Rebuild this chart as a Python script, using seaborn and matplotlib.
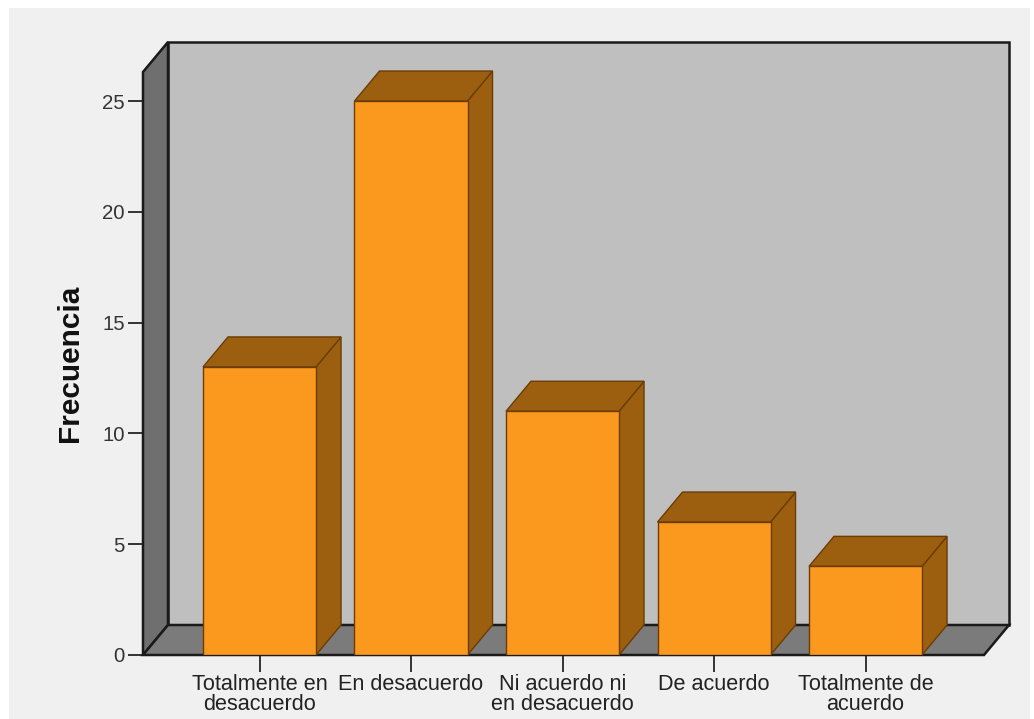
import seaborn as sns
import matplotlib.pyplot as plt
from matplotlib.patches import Polygon, Rectangle
from matplotlib.transforms import ScaledTranslation

sns.set_theme(style="white")
plt.rcParams["font.family"] = ["Liberation Sans", "DejaVu Sans"]

categories = ["Totalmente en\ndesacuerdo", "En desacuerdo", "Ni acuerdo ni\nen desacuerdo",
              "De acuerdo", "Totalmente de\nacuerdo"]
frecuencia = [13, 25, 11, 6, 4]
yticks = [0, 5, 10, 15, 20, 25]

W, H = 1034, 719
dpi = 100
DX, DY = 25, 30  # depth of the fake 3d box, pixels
edge = "#1a1a1a"
bar_edge = "#6b3c05"

fig = plt.figure(figsize=(W / dpi, H / dpi), dpi=dpi, facecolor="white")
fig.add_artist(Rectangle((9 / W, 0), 1021 / W, 711 / H, transform=fig.transFigure,
                         facecolor="#f0f0f0", edgecolor="none", zorder=-5))
ax = fig.add_axes([143 / W, (H - 655) / H, 841 / W, 583 / H])
ax.patch.set_alpha(0)

sns.barplot(x=categories, y=frecuencia, ax=ax, color="#fb991f", saturation=1,
            width=0.746, edgecolor=bar_edge, linewidth=1.0, zorder=5)
ax.set_xlim(-0.769, 4.782)
ax.set_ylim(0, 26.31)

# shift to the back plane
back = ax.transData + ScaledTranslation(DX / dpi, DY / dpi, fig.dpi_scale_trans)
x0, x1 = ax.get_xlim()
y0, y1 = ax.get_ylim()


def depth_face(p, q, color, ec, lw, z):
    # parallelogram from a front edge p-q to the same edge on the back plane
    a = ax.transData.transform([p, q])
    b = a + [DX, DY]
    ax.add_patch(Polygon([a[0], a[1], b[1], b[0]], closed=True, transform=None,
                         facecolor=color, edgecolor=ec, linewidth=lw, zorder=z,
                         clip_on=False))


# back wall
ax.add_patch(Rectangle((x0, y0), x1 - x0, y1 - y0, transform=back, facecolor="#bfbfbf",
                       edgecolor=edge, linewidth=1.8, zorder=1, clip_on=False))
# left wall and floor
depth_face((x0, y0), (x0, y1), "#6f6f6f", edge, 1.8, 2)
depth_face((x0, y0), (x1, y0), "#7b7b7b", edge, 1.8, 2)

# side and top of each bar
for bar in ax.patches[:len(frecuencia)]:
    left, w, h = bar.get_x(), bar.get_width(), bar.get_height()
    depth_face((left + w, 0), (left + w, h), "#9c5f10", bar_edge, 1.0, 4)
    depth_face((left, h), (left + w, h), "#9c5f10", bar_edge, 1.0, 4)

ax.set_yticks(yticks)
ax.set_ylabel("Frecuencia", fontsize=21.4, fontweight="bold", color="#111111", labelpad=13)
ax.tick_params(axis="y", length=11, width=1.4, color="#333333", labelsize=14.7,
               labelcolor="#333333", left=True, pad=2)
ax.tick_params(axis="x", length=12, width=1.4, color="#333333", labelsize=15.6,
               labelcolor="#222222", bottom=True, pad=2)
for lab in ax.get_xticklabels():
    lab.set_linespacing(0.9)

sns.despine(ax=ax, top=True, right=True, left=True, bottom=True)
fig.savefig("out.png", dpi=dpi, facecolor=fig.get_facecolor())
